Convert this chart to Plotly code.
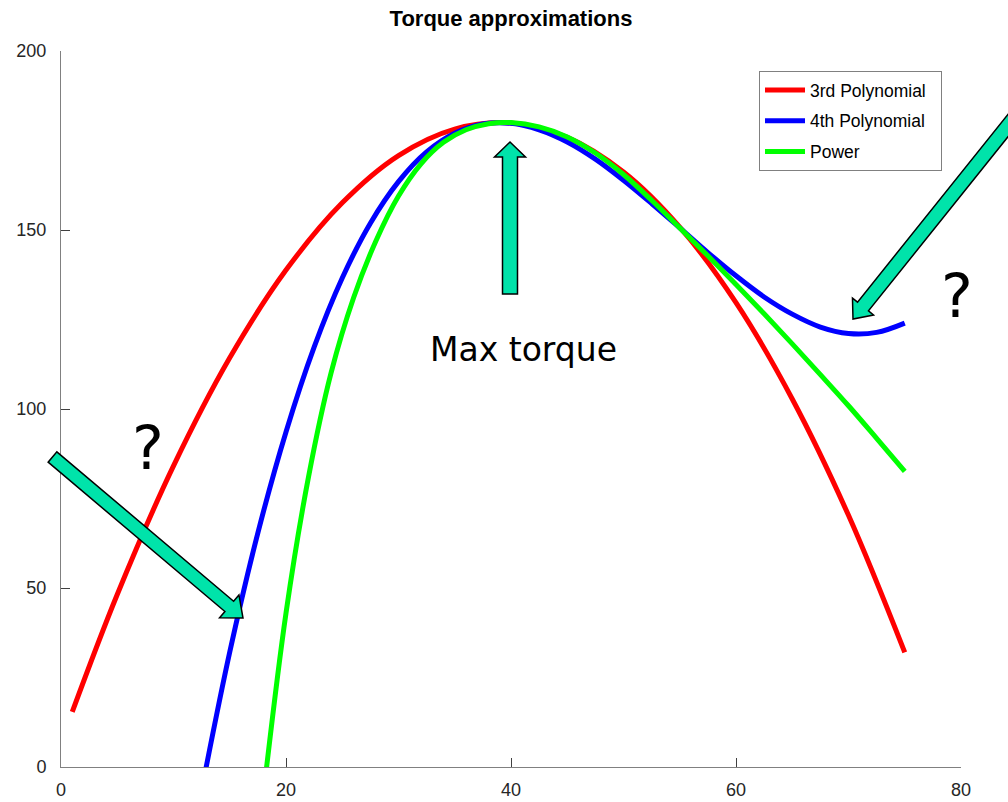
import math
import plotly.graph_objects as go

# ---- data ----
cubic_x = [1, 5, 10, 15, 20, 25, 30, 35, 40, 45, 50, 55, 60, 65, 70, 75]
cubic_y = [15.4, 48.2, 84.1, 114.3, 138.8, 157.6, 170.8, 178.2, 179.9, 175.9, 166.2, 150.8, 129.7, 102.8, 70.3, 32]

quartic_x = [12.5, 15, 17.5, 20, 22.5, 25, 27.5, 30, 32.5, 35, 37.5, 40, 42.5, 45, 47.5, 50,
             52.5, 55, 57.5, 60, 62.5, 65, 67.5, 70, 72.5, 75]
quartic_y = [-6.5, 32.1, 65.4, 93.6, 117.3, 136.6, 151.9, 163.5, 171.8, 177.0, 179.6, 179.8, 178.0,
             174.6, 169.8, 163.9, 157.4, 150.6, 143.7, 137.2, 131.3, 126.5, 122.9, 121.1, 121.4, 124.0]

power_x = [18, 20, 22, 24, 26, 28, 30, 32, 34, 36, 38, 40, 42.5, 45, 47.5, 50,
           52.5, 55, 57.5, 60, 62.5, 65, 67.5, 70, 72.5, 75]
power_y = [-7.5, 43, 81, 110, 131, 147, 159.5, 168.5, 174.5, 178, 179.7, 180, 178.8, 176, 171.5, 165.5,
           158.3, 150.6, 142.8, 134.8, 126.6, 118.2, 109.6, 100.9, 91.8, 82.6]

series_names = ["3rd Polynomial", "4th Polynomial", "Power"]
x_ticks = [0, 20, 40, 60, 80]
y_ticks = [0, 50, 100, 150, 200]

# ---- layout constants ----
W, H = 1008, 802
ML, MR, MT, MB = 61, 47, 51, 35
PW, PH = W - ML - MR, H - MT - MB


def to_paper(px, py):
    return (px - ML) / PW, (H - MB - py) / PH


def arrow_path(tail, tip, shaft_w, head_w, head_len):
    dx, dy = tip[0] - tail[0], tip[1] - tail[1]
    n = math.hypot(dx, dy)
    ux, uy = dx / n, dy / n
    nx, ny = -uy, ux
    bx, by = tip[0] - ux * head_len, tip[1] - uy * head_len
    pts = [(tail[0] + nx * shaft_w / 2, tail[1] + ny * shaft_w / 2),
           (bx + nx * shaft_w / 2, by + ny * shaft_w / 2),
           (bx + nx * head_w / 2, by + ny * head_w / 2),
           tip,
           (bx - nx * head_w / 2, by - ny * head_w / 2),
           (bx - nx * shaft_w / 2, by - ny * shaft_w / 2),
           (tail[0] - nx * shaft_w / 2, tail[1] - ny * shaft_w / 2)]
    pp = [to_paper(*p) for p in pts]
    return "M " + " L ".join(f"{x:.5f},{y:.5f}" for x, y in pp) + " Z"


fig = go.Figure()
pad = "\u00a0\u00a0"
for xs, ys, name, col, grp in [(cubic_x, cubic_y, series_names[0], "#FF0000", "a"),
                               (quartic_x, quartic_y, series_names[1], "#0000FF", "b"),
                               (power_x, power_y, series_names[2], "#00FF00", "c")]:
    fig.add_trace(go.Scatter(x=xs, y=ys, mode="lines", name=name + pad, legendgroup=grp,
                             line=dict(color=col, width=5, shape="spline", smoothing=1.0)))

arrow_fill = "#00E3AA"
shapes = []
for tail, tip, sw, hw, hl in [((510, 294), (510, 142), 15, 31, 15),
                              ((52.5, 457), (243, 618), 13.5, 30, 18),
                              ((1014, 118), (853, 319), 14, 27, 16)]:
    shapes.append(dict(type="path", xref="paper", yref="paper",
                       path=arrow_path(tail, tip, sw, hw, hl),
                       fillcolor=arrow_fill, line=dict(color="black", width=1.5), layer="above"))

annotations = []
for txt, px, py, size in [("Max torque", 523, 349, 33), ("?", 148, 448, 60), ("?", 957, 296, 60)]:
    ax, ay = to_paper(px, py)
    annotations.append(dict(text=txt, x=ax, y=ay, xref="paper", yref="paper",
                            xanchor="center", yanchor="middle", showarrow=False,
                            font=dict(family="DejaVu Sans", size=size, color="black")))

lx, ly = to_paper(942, 71)
axis_common = dict(ticks="inside", ticklen=9, tickcolor="#404040", tickwidth=1,
                   showline=True, linecolor="#808080", linewidth=1,
                   showgrid=False, zeroline=False,
                   tickfont=dict(family="Liberation Sans", size=18, color="#262626"))

fig.update_layout(
    width=W, height=H,
    margin=dict(l=ML, r=MR, t=MT, b=MB, autoexpand=False),
    paper_bgcolor="white", plot_bgcolor="white",
    font=dict(family="Liberation Sans", color="#262626"),
    title=dict(text="<b>Torque approximations</b>", x=0.5, xref="paper", xanchor="center",
               y=1 - 18 / H, yref="container", yanchor="middle",
               font=dict(family="Liberation Sans", size=22, color="black")),
    xaxis=dict(range=[0, 80], tickvals=x_ticks, ticklabelstandoff=6, **axis_common),
    yaxis=dict(range=[0, 200], tickvals=y_ticks, ticklabelstandoff=10, **axis_common),
    legend=dict(x=lx, y=ly, xanchor="right", yanchor="top", bgcolor="white",
                bordercolor="#808080", borderwidth=1, tracegroupgap=5, itemwidth=40,
                font=dict(family="Liberation Sans", size=17.5, color="black")),
    shapes=shapes, annotations=annotations, showlegend=True,
)

fig.write_html("out.html", config={"displayModeBar": False},
               post_script="document.body.style.margin='0';document.body.style.overflow='hidden';")
